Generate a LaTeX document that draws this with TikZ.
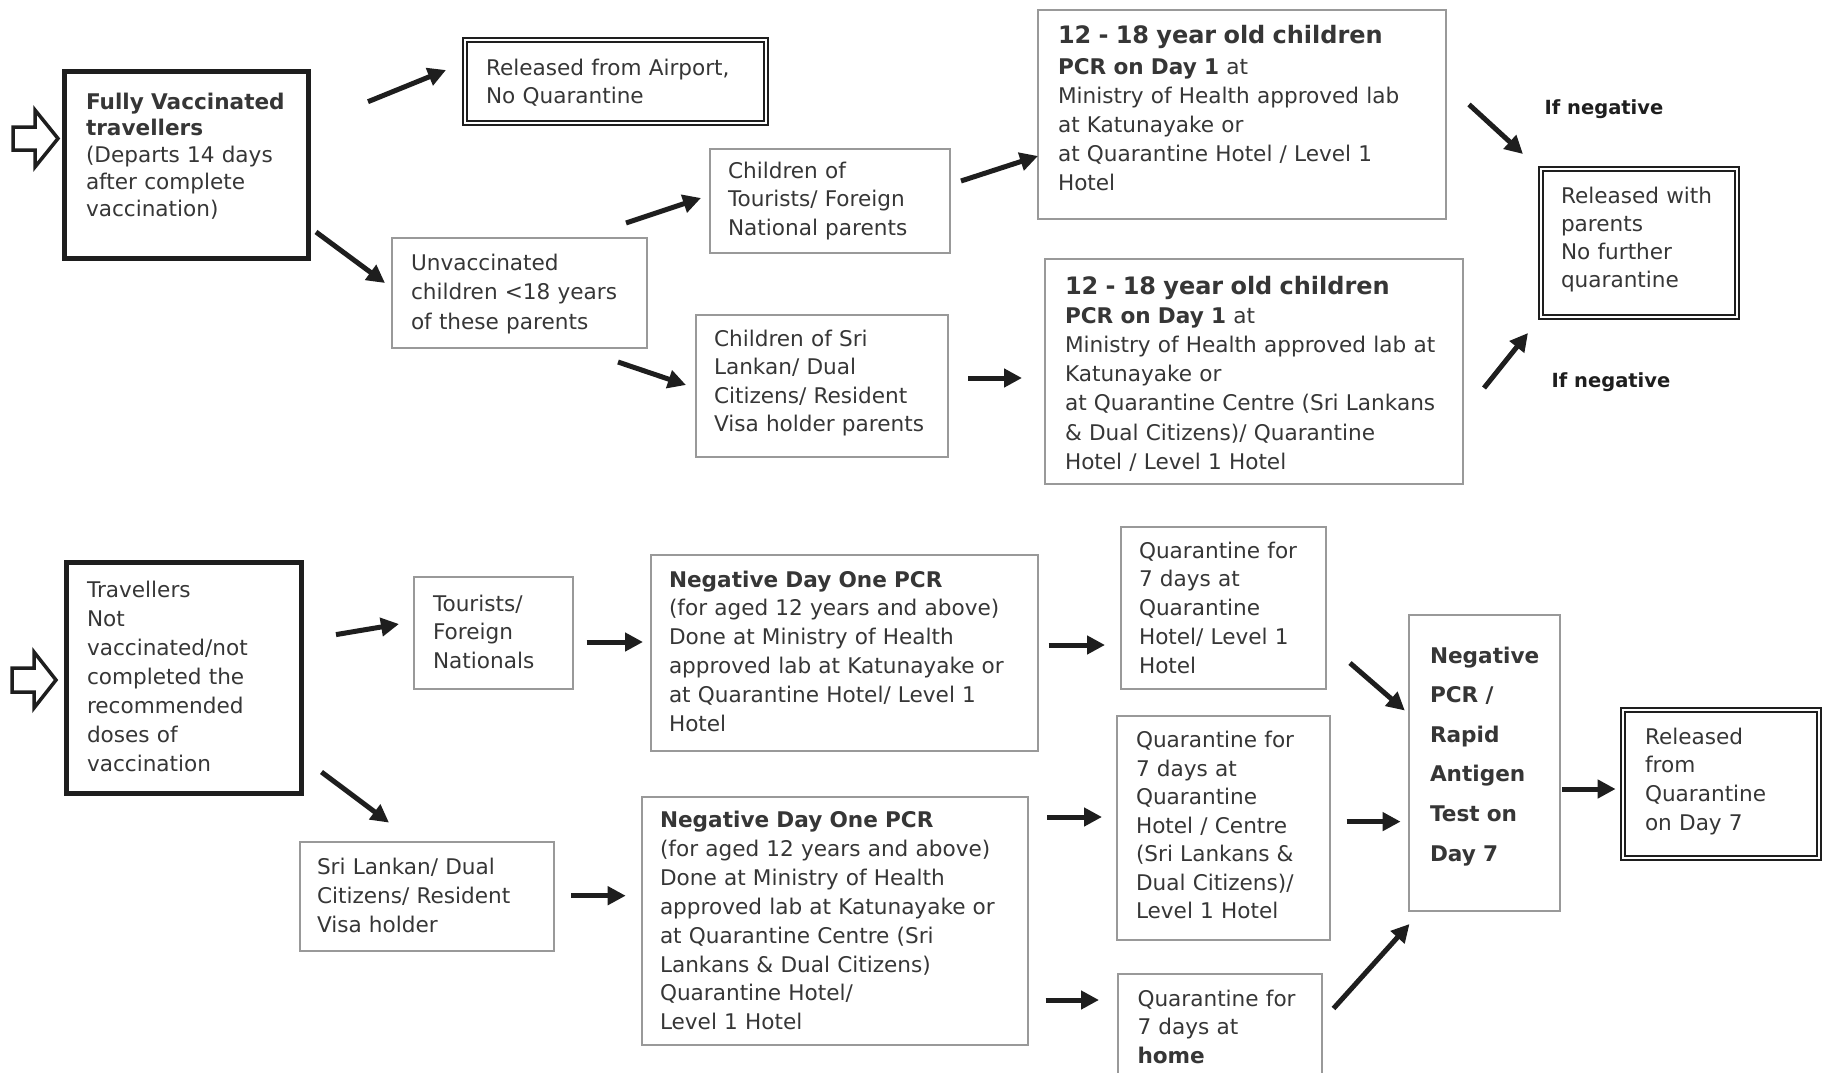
\documentclass[tikz,border=0pt]{standalone}
\usepackage{fontspec}
\setmainfont{DejaVu Sans}
\usetikzlibrary{arrows.meta,calc}
\definecolor{txtc}{HTML}{363636}
\definecolor{bgray}{HTML}{999999}
\definecolor{darkc}{HTML}{1E1E1E}
\begin{document}
\begin{tikzpicture}[x=1pt,y=-1pt,
  tbox/.style={draw=bgray, line width=1.4pt, inner sep=0pt, outer sep=0pt, rectangle, anchor=north west},
  thickbox/.style={draw=darkc, line width=5pt, inner sep=0pt, outer sep=0pt, rectangle, anchor=north west},
  dblbox/.style={draw=darkc, double=white, double distance=2.5pt, line width=1.8pt, inner sep=0pt, outer sep=0pt, rectangle, anchor=north west},
  tx/.style={anchor=base west, inner sep=0pt, outer sep=0pt, align=left, text width=440pt, text=txtc, font=\fontsize{21.6}{28.7}\selectfont},
  arr/.style={draw=darkc, line width=5pt, -{Triangle[length=18pt,width=18pt]}},
  lab/.style={inner sep=0pt, text=darkc, font=\fontsize{19.5}{23}\selectfont\bfseries},
  hollow/.style={draw=darkc, line width=3.5pt, line join=miter, fill=white}
]
\useasboundingbox (0,0) rectangle (1831,1073);

% hollow input arrows
\draw[hollow] (13,127)--(35,127)--(35,110)--(58,138.5)--(35,167)--(35,150)--(13,150)--cycle;
\draw[hollow] (12,668)--(34,668)--(34,652)--(56,680)--(34,708)--(34,692)--(12,692)--cycle;

% ---------- top section ----------
\node[thickbox, minimum width=244, minimum height=186] (A) at (64,72) {};
\node[tx, font=\fontsize{21.6}{26.9}\selectfont] (tA) at (86,109) {\textbf{Fully Vaccinated}\\\textbf{travellers}\\(Departs 14 days\\after complete\\vaccination)};

\node[dblbox, minimum width=301, minimum height=83] (B) at (465,40) {};
\node[tx] (tB) at (486,75) {Released from Airport,\\No Quarantine};

\node[tbox, minimum width=255, minimum height=110] (C) at (392,238) {};
\node[tx, font=\fontsize{21.6}{29.5}\selectfont] (tC) at (411,270) {Unvaccinated\\children <18 years\\of these parents};

\node[tbox, minimum width=240, minimum height=104] (D) at (710,149) {};
\node[tx, font=\fontsize{21.6}{28.5}\selectfont] (tD) at (728,178) {Children of\\Tourists/ Foreign\\National parents};

\node[tbox, minimum width=252, minimum height=142] (E) at (696,315) {};
\node[tx, font=\fontsize{21.6}{28.5}\selectfont] (tE) at (714,346) {Children of Sri\\Lankan/ Dual\\Citizens/ Resident\\Visa holder parents};

\node[tbox, minimum width=408, minimum height=209] (F) at (1038,10) {};
\node[tx, font=\fontsize{21.6}{29}\selectfont] (tF) at (1058,44) {{\fontsize{24}{29}\selectfont\bfseries 12 - 18 year old children}\\[2pt]\textbf{PCR on Day 1} at\\Ministry of Health approved lab\\at Katunayake or\\at Quarantine Hotel / Level 1\\Hotel};

\node[tbox, minimum width=418, minimum height=225] (G) at (1045,259) {};
\node[tx, font=\fontsize{21.6}{29.2}\selectfont] (tG) at (1065,294) {{\fontsize{24}{29.2}\selectfont\bfseries 12 - 18 year old children}\\\textbf{PCR on Day 1} at\\Ministry of Health approved lab at\\Katunayake or\\at Quarantine Centre (Sri Lankans\\\& Dual Citizens)/ Quarantine\\Hotel / Level 1 Hotel};

\node[dblbox, minimum width=196, minimum height=148] (H) at (1541,169) {};
\node[tx, font=\fontsize{21.6}{28}\selectfont] (tH) at (1561,203) {Released with\\parents\\No further\\quarantine};

\node[lab] (n1) at (1604,109) {If negative};
\node[lab] (n2) at (1611,382) {If negative};

\draw[arr] ($(A.north west)+(304,29.7)$) -- ($(B.north west)+(-19,30)$);
\draw[arr] ($(A.north west)+(252,160)$) -- ($(C.north west)+(-7,45)$);
\draw[arr] ($(C.north west)+(234,-15)$) -- ($(D.north west)+(-9,49)$);
\draw[arr] ($(C.north west)+(226,124)$) -- ($(E.north west)+(-10,70)$);
\draw[arr] ($(D.north west)+(251,32)$) -- ($(F.north west)+(0,146)$);
\draw[arr] ($(E.north west)+(272,63)$) -- ($(G.north west)+(-23,119)$);
\draw[arr] ($(F.north west)+(431,94.5)$) -- ($(H.north west)+(-18,-15)$);
\draw[arr] ($(G.north west)+(439,129)$) -- ($(H.north west)+(-13,164)$);

% ---------- bottom section ----------
\node[thickbox, minimum width=235, minimum height=231] (I) at (66,562) {};
\node[tx, font=\fontsize{21.6}{29}\selectfont] (tI) at (87,597.5) {Travellers\\Not\\vaccinated/not\\completed the\\recommended\\doses of\\vaccination};

\node[tbox, minimum width=159, minimum height=112] (J) at (414,577) {};
\node[tx, font=\fontsize{21.6}{28.5}\selectfont] (tJ) at (433,611) {Tourists/\\Foreign\\Nationals};

\node[tbox, minimum width=387, minimum height=196] (K) at (651,555) {};
\node[tx, font=\fontsize{21.6}{28.9}\selectfont] (tK) at (669,587) {\textbf{Negative Day One PCR}\\(for aged 12 years and above)\\Done at Ministry of Health\\approved lab at Katunayake or\\at Quarantine Hotel/ Level 1\\Hotel};

\node[tbox, minimum width=254, minimum height=109] (L) at (300,842) {};
\node[tx, font=\fontsize{21.6}{29}\selectfont] (tL) at (317,874) {Sri Lankan/ Dual\\Citizens/ Resident\\Visa holder};

\node[tbox, minimum width=386, minimum height=248] (M) at (642,797) {};
\node[tx, font=\fontsize{21.6}{28.9}\selectfont] (tM) at (660,827.5) {\textbf{Negative Day One PCR}\\(for aged 12 years and above)\\Done at Ministry of Health\\approved lab at Katunayake or\\at Quarantine Centre (Sri\\Lankans \& Dual Citizens)\\Quarantine Hotel/\\Level 1 Hotel};

\node[tbox, minimum width=205, minimum height=162] (N) at (1121,527) {};
\node[tx, font=\fontsize{21.6}{28.8}\selectfont] (tN) at (1139,558) {Quarantine for\\7 days at\\Quarantine\\Hotel/ Level 1\\Hotel};

\node[tbox, minimum width=213, minimum height=224] (O) at (1117,716) {};
\node[tx, font=\fontsize{21.6}{28.5}\selectfont] (tO) at (1136,747.5) {Quarantine for\\7 days at\\Quarantine\\Hotel / Centre\\(Sri Lankans \&\\Dual Citizens)/\\Level 1 Hotel};

\node[tbox, minimum width=204, minimum height=112] (P) at (1118,974) {};
\node[tx, font=\fontsize{21.6}{28.2}\selectfont] (tP) at (1137.5,1006.7) {Quarantine for\\7 days at\\\textbf{home}};

\node[tbox, minimum width=151, minimum height=296] (Q) at (1409,615) {};
\node[tx, font=\fontsize{21.6}{39.6}\selectfont\bfseries] (tQ) at (1430,663) {Negative\\PCR /\\Rapid\\Antigen\\Test on\\Day 7};

\node[dblbox, minimum width=196, minimum height=148] (R) at (1623,710) {};
\node[tx] (tR) at (1645,744) {Released\\from\\Quarantine\\on Day 7};

\draw[arr] ($(I.north west)+(270,72.6)$) -- ($(J.north west)+(-15,47)$);
\draw[arr] ($(I.north west)+(255.5,210)$) -- ($(L.north west)+(89,-19.4)$);
\draw[arr] ($(J.north west)+(172.7,65)$) -- ($(K.north west)+(-8,87)$);
\draw[arr] ($(L.north west)+(271,53.7)$) -- ($(M.north west)+(-16.3,98.7)$);
\draw[arr] ($(K.north west)+(397.5,90)$) -- ($(N.north west)+(-16,118)$);
\draw[arr] ($(M.north west)+(405,20)$) -- ($(O.north west)+(-15,101)$);
\draw[arr] ($(M.north west)+(403.5,203)$) -- ($(P.north west)+(-19,26)$);
\draw[arr] ($(N.north west)+(229,136)$) -- ($(Q.north west)+(-4.2,95.5)$);
\draw[arr] ($(O.north west)+(229.6,105.6)$) -- ($(Q.north west)+(-8.4,206.6)$);
\draw[arr] ($(P.north west)+(215.5,34.5)$) -- ($(Q.north west)+(0.5,309)$);
\draw[arr] ($(Q.north west)+(153,174)$) -- ($(R.north west)+(-7.4,79)$);
\end{tikzpicture}
\end{document}
